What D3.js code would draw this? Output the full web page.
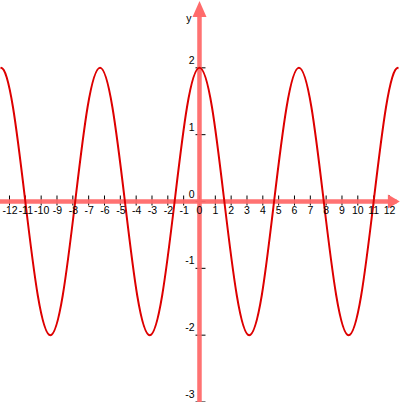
<!DOCTYPE html>
<html>
<head>
<meta charset="utf-8">
<script src="https://cdn.jsdelivr.net/npm/d3@7"></script>
<style>
  body { margin: 0; background: #fff; }
  svg { display: block; }
  text { font-family: "Liberation Sans", Arial, sans-serif; font-size: 10.5px; fill: #000; }
</style>
</head>
<body>
<div class="graph"></div>
<script>
// Size of the picture
var svgWidth = 408;
var svgHeight = 402;

// Points (x, y), one extra point on each end so the ends stay smooth
var curveX = [-13.35, -12.57, -11.78, -11.0, -10.21, -9.42, -8.64, -7.85, -7.07, -6.28, -5.5, -4.71, -3.93,
              -3.14, -2.36, -1.57, -0.79, 0, 0.79, 1.57, 2.36, 3.14, 3.93, 4.71, 5.5,
              6.28, 7.07, 7.85, 8.64, 9.42, 10.21, 11.0, 11.78, 12.57, 13.35];
var curveY = [1.41, 2, 1.41, 0, -1.41, -2, -1.41, 0, 1.41, 2, 1.41, 0, -1.41,
              -2, -1.41, 0, 1.41, 2, 1.41, 0, -1.41, -2, -1.41, 0, 1.41,
              2, 1.41, 0, -1.41, -2, -1.41, 0, 1.41, 2, 1.41];

// Plotted range of the curve
var plotRange = [-12.57, 12.57];

// Tick values
var xTicks = [-12, -11, -10, -9, -8, -7, -6, -5, -4, -3, -2, -1, 0, 1, 2, 3, 4, 5, 6, 7, 8, 9, 10, 11, 12];
var yTicks = [-3, -2, -1, 0, 1, 2];

var points = curveX.map(function(x, i) { return { x: x, y: curveY[i] }; });

var svg = d3.select(".graph")
    .append("svg")
    .attr("width", svgWidth)
    .attr("height", svgHeight);

// scales
var xScale = d3.scaleLinear()
    .domain([-12.6, 13.17])
    .range([0, svgWidth]);

var yScale = d3.scaleLinear()
    .domain([-3, 3])
    .range([402, 1]);

var x0 = xScale(0);
var y0 = yScale(0);

// clip the curve to its plotted range
svg.append("clipPath")
    .attr("id", "plotclip")
    .append("rect")
    .attr("x", xScale(plotRange[0]))
    .attr("y", 0)
    .attr("width", xScale(plotRange[1]) - xScale(plotRange[0]))
    .attr("height", svgHeight);

// tick marks
svg.selectAll(".xtick")
    .data(xTicks)
    .enter()
    .append("line")
    .attr("x1", d => xScale(d))
    .attr("x2", d => xScale(d))
    .attr("y1", y0 - 6)
    .attr("y2", y0 + 4)
    .attr("stroke", "#000")
    .attr("stroke-width", 1);

svg.selectAll(".ytick")
    .data(yTicks)
    .enter()
    .append("line")
    .attr("x1", x0 - 4)
    .attr("x2", x0 + 6)
    .attr("y1", d => yScale(d))
    .attr("y2", d => yScale(d))
    .attr("stroke", "#000")
    .attr("stroke-width", 1);

// axes with arrow heads
var axisColor = "#ff6b6b";

svg.append("line")
    .attr("x1", 0).attr("x2", xScale(12.45))
    .attr("y1", y0).attr("y2", y0)
    .attr("stroke", axisColor)
    .attr("stroke-width", 4.5)
    .attr("opacity", 0.95);

svg.append("path")
    .attr("d", `M${xScale(12.65)},${y0} L${xScale(11.9)},${y0 - 7} L${xScale(11.9)},${y0 + 7} Z`)
    .attr("fill", axisColor);

svg.append("line")
    .attr("x1", x0).attr("x2", x0)
    .attr("y1", yScale(2.82)).attr("y2", svgHeight)
    .attr("stroke", axisColor)
    .attr("stroke-width", 4.5)
    .attr("opacity", 0.95);

svg.append("path")
    .attr("d", `M${x0},${yScale(3)} L${x0 - 7},${yScale(2.76)} L${x0 + 7},${yScale(2.76)} Z`)
    .attr("fill", axisColor);

// the curve
var line = d3.line()
    .x(d => xScale(d.x))
    .y(d => yScale(d.y))
    .curve(d3.curveNatural);

svg.append("path")
    .datum(points)
    .attr("d", line)
    .attr("clip-path", "url(#plotclip)")
    .attr("fill", "none")
    .attr("stroke", "#dd0000")
    .attr("stroke-width", 2);

// tick labels
svg.selectAll(".xlabel")
    .data(xTicks)
    .enter()
    .append("text")
    .attr("x", d => xScale(d) + (d < 0 ? 0.5 : 0))
    .attr("y", y0 + 12)
    .attr("text-anchor", "middle")
    .text(d => d < 0 ? "-" + Math.abs(d) : d);

svg.selectAll(".ylabel")
    .data(yTicks)
    .enter()
    .append("text")
    .attr("x", x0 - 5)
    .attr("y", d => yScale(d) - 4)
    .attr("text-anchor", "end")
    .text(d => d < 0 ? "-" + Math.abs(d) : d);

svg.append("text")
    .attr("x", x0 - 8)
    .attr("y", 22)
    .attr("text-anchor", "end")
    .text("y");
</script>
</body>
</html>
